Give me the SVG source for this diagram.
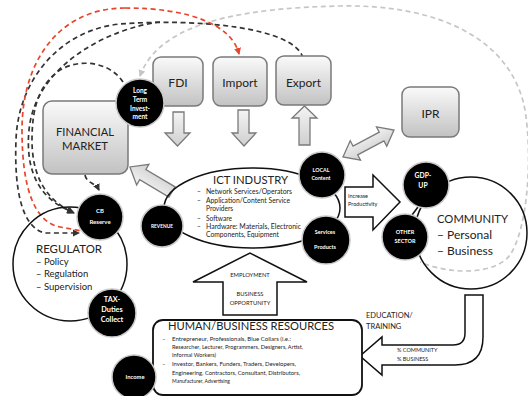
<svg xmlns="http://www.w3.org/2000/svg" width="528" height="396" viewBox="0 0 528 396">
<defs>
<linearGradient id="gb" x1="0" y1="0" x2="0" y2="1">
<stop offset="0" stop-color="#fafafa"/><stop offset="1" stop-color="#c2c2c2"/>
</linearGradient>
<linearGradient id="ga" x1="0" y1="0" x2="0" y2="1">
<stop offset="0" stop-color="#f4f4f4"/><stop offset="1" stop-color="#cfcfcf"/>
</linearGradient>
<marker id="mk" markerWidth="8" markerHeight="8" refX="6" refY="4" orient="auto" markerUnits="userSpaceOnUse"><path d="M0,0.5 L7,4 L0,7.5 Z" fill="#333"/></marker>
<marker id="mr" markerWidth="8" markerHeight="8" refX="6" refY="4" orient="auto" markerUnits="userSpaceOnUse"><path d="M0,0.5 L7,4 L0,7.5 Z" fill="#e8452c"/></marker>
<marker id="mg" markerWidth="8" markerHeight="8" refX="2" refY="4" orient="auto" markerUnits="userSpaceOnUse"><path d="M8,0.5 L1,4 L8,7.5 Z" fill="#c4c4c4"/></marker>
</defs>
<style>
text{font-family:Lato,"Liberation Sans",sans-serif;fill:#222}
.box{fill:url(#gb);stroke:#7a7a7a;stroke-width:1.5}
.blk{fill:#000;stroke:#c8c8c8;stroke-width:1.5}
.ct{fill:#fff;font-weight:bold;text-anchor:middle}
.dk{fill:none;stroke:#333;stroke-width:1.7;stroke-dasharray:5 3.5}
.dr{fill:none;stroke:#e8452c;stroke-width:1.7;stroke-dasharray:5 3.5}
.dg{fill:none;stroke:#c6c6c6;stroke-width:1.7;stroke-dasharray:5 3.5}
.ga{fill:url(#ga);stroke:#7a7a7a;stroke-width:1.3}
.ln{fill:none;stroke:#111;stroke-width:1.5}
.wa{fill:#fff;stroke:#111;stroke-width:1.5}
.bt{font-size:6.6px}
.ht{font-size:6px}
</style>

<g id="connectors">
<path class="dg" d="M140,76 C160,20 250,8 340,6 C440,4 512,40 525,110 C533,160 527,230 510,255 C495,275 450,275 420,262" marker-start="url(#mg)"/>
<path class="dk" d="M303,58 C295,28 200,18 120,24 C60,30 18,80 16,140 C14,190 22,228 45,233 L79,233" marker-end="url(#mk)"/>
<path class="dk" d="M160,22 C110,28 35,65 29,130 C25,172 40,200 73,212" marker-end="url(#mk)"/>
<path class="dr" d="M125,8 C60,8 22,60 22,130 C22,190 35,222 60,227 L82,231"/>
<path class="dr" d="M125,8 C190,8 232,25 239,54" marker-end="url(#mr)"/>
<path class="dk" d="M123,82 C110,62 80,58 60,70 C38,85 32,110 32,140 C32,175 45,200 74,213" marker-end="url(#mk)"/>
<path class="dk" d="M85,175 C87,184 95,182 99,190" marker-end="url(#mk)"/>
<path class="ga" d="M173,112 L184,112 L184,133 L190,133 L177.5,146 L165,133 L173,133 Z"/>
<path class="ga" d="M238,110 L249,110 L249,133 L256,133 L244,146 L232,133 L238,133 Z"/>
<path class="ga" d="M299,145 L310,145 L310,118 L317,118 L304.5,106 L292,118 L299,118 Z"/>
<path class="ga" transform="translate(172,192) rotate(210.8)" d="M0,-6 L34,-6 L34,-12 L49,0 L34,12 L34,6 L0,6 Z"/>
<path class="ga" transform="translate(343,157) rotate(-27.9)" d="M0,0 L14,-11 L14,-5 L43.7,-5 L43.7,-11 L57.7,0 L43.7,11 L43.7,5 L14,5 L14,11 Z"/>
<path class="wa" d="M345,187 L373,187 L373,175 L400,202 L373,230 L373,217 L345,217 Z"/>
<text x="348" y="198" style="font-size:5.5px">Increase</text>
<text x="348" y="206" style="font-size:5.5px">Productivity</text>
<path class="wa" d="M223,315 L277,315 L277,282 L307,282 L250,253 L193,282 L223,282 Z"/>
<text x="250" y="277" text-anchor="middle" style="font-size:5.8px">EMPLOYMENT</text>
<text x="250" y="296" text-anchor="middle" style="font-size:5.8px">BUSINESS</text>
<text x="250" y="305" text-anchor="middle" style="font-size:5.8px">OPPORTUNITY</text>
<path class="wa" d="M465,295 L465,333 Q465,345 453,345 L382,345 L382,337 L360,356 L382,375 L382,365 L455,365 Q483,365 483,337 L483,295 Z"/>
<text x="366" y="318" style="font-size:7.5px">EDUCATION/</text>
<text x="366" y="329" style="font-size:7.5px">TRAINING</text>
<text x="397" y="352" style="font-size:5.5px">% COMMUNITY</text>
<text x="397" y="361" style="font-size:5.5px">% BUSINESS</text>
<line class="ln" x1="418" y1="207" x2="412" y2="215"/>
</g>

<g id="fdi"><rect class="box" x="153" y="57" width="50" height="49" rx="8"/><text x="178" y="87" text-anchor="middle" style="font-size:12px">FDI</text></g>
<g id="import"><rect class="box" x="213" y="57" width="54" height="49" rx="8"/><text x="240" y="87" text-anchor="middle" style="font-size:12px">Import</text></g>
<g id="export"><rect class="box" x="276" y="56" width="55" height="49" rx="8"/><text x="303.5" y="87" text-anchor="middle" style="font-size:12px">Export</text></g>
<g id="ipr"><rect class="box" x="402" y="87" width="57" height="50" rx="8"/><text x="430.5" y="118" text-anchor="middle" style="font-size:12px">IPR</text></g>
<g id="financial-market"><rect class="box" x="43" y="101" width="85" height="73" rx="9"/>
<text x="85" y="136" text-anchor="middle" style="font-size:11.5px" textLength="58" lengthAdjust="spacingAndGlyphs">FINANCIAL</text>
<text x="85" y="150" text-anchor="middle" style="font-size:11.5px" textLength="46" lengthAdjust="spacingAndGlyphs">MARKET</text></g>

<g id="ict-industry"><ellipse class="ln" cx="252" cy="208" rx="88" ry="40" fill="#fff"/>
<text x="250.5" y="184" text-anchor="middle" style="font-size:11px" textLength="75" lengthAdjust="spacingAndGlyphs">ICT INDUSTRY</text>
<text x="197" y="194" class="bt">–</text><text x="206" y="194" class="bt" textLength="86" lengthAdjust="spacingAndGlyphs">Network Services/Operators</text>
<text x="197" y="203" class="bt">–</text><text x="206" y="203" class="bt" textLength="84" lengthAdjust="spacingAndGlyphs">Application/Content Service</text>
<text x="206" y="211" class="bt">Providers</text>
<text x="197" y="221" class="bt">–</text><text x="206" y="221" class="bt">Software</text>
<text x="197" y="229" class="bt">–</text><text x="206" y="229" class="bt" textLength="95" lengthAdjust="spacingAndGlyphs">Hardware: Materials, Electronic</text>
<text x="206" y="237" class="bt" textLength="73" lengthAdjust="spacingAndGlyphs">Components, Equipment</text></g>

<g id="regulator"><circle class="ln" cx="70" cy="264" r="57" fill="none"/>
<text x="36" y="253" style="font-size:11px" textLength="66" lengthAdjust="spacingAndGlyphs">REGULATOR</text>
<text x="36" y="265" style="font-size:9.5px">– Policy</text>
<text x="36" y="277" style="font-size:9.5px">– Regulation</text>
<text x="36" y="290" style="font-size:9.5px">– Supervision</text></g>

<g id="community"><circle class="ln" cx="471" cy="233" r="56" fill="none"/>
<text x="437" y="223" style="font-size:11.5px" textLength="71" lengthAdjust="spacingAndGlyphs">COMMUNITY</text>
<text x="437" y="239" style="font-size:12px">– Personal</text>
<text x="437" y="255" style="font-size:12px">– Business</text></g>

<g id="human-business-resources"><rect x="153" y="320" width="209" height="75" rx="10" fill="#fff" stroke="#111" stroke-width="1.8"/>
<text x="168" y="330" style="font-size:12px" textLength="166" lengthAdjust="spacingAndGlyphs">HUMAN/BUSINESS RESOURCES</text>
<text x="162" y="341" class="ht">–</text><text x="172" y="341" class="ht" textLength="119" lengthAdjust="spacingAndGlyphs">Entrepreneur, Professionals, Blue Collars (i.e.:</text>
<text x="172" y="349" class="ht" textLength="131" lengthAdjust="spacingAndGlyphs">Researcher, Lecturer, Programmers, Designers, Artist,</text>
<text x="172" y="357" class="ht" textLength="44" lengthAdjust="spacingAndGlyphs">Informal Workers)</text>
<text x="162" y="366" class="ht">–</text><text x="172" y="366" class="ht" textLength="124" lengthAdjust="spacingAndGlyphs">Investor, Bankers, Funders, Traders, Developers,</text>
<text x="172" y="375" class="ht" textLength="128" lengthAdjust="spacingAndGlyphs">Engineering, Contractors, Consultant, Distributors,</text>
<text x="172" y="383" class="ht" textLength="58" lengthAdjust="spacingAndGlyphs">Manufacturer, Advertising</text></g>

<g id="long-term-investment"><circle class="blk" cx="140" cy="103" r="24"/>
<text class="ct" x="140" y="93" style="font-size:6.5px">Long</text>
<text class="ct" x="140" y="102" style="font-size:6.5px">Term</text>
<text class="ct" x="140" y="111" style="font-size:6.5px">Invest-</text>
<text class="ct" x="140" y="119" style="font-size:6.5px">ment</text></g>
<g id="cb-reserve"><circle class="blk" cx="100" cy="217" r="23"/>
<text class="ct" x="100" y="213" style="font-size:6px">CB</text>
<text class="ct" x="100" y="224" style="font-size:6px">Reserve</text></g>
<g id="revenue"><circle class="blk" cx="162" cy="226" r="21"/>
<text class="ct" x="162" y="228" style="font-size:4.8px">REVENUE</text></g>
<g id="local-content"><circle class="blk" cx="322" cy="175" r="23"/>
<text class="ct" x="321" y="172" style="font-size:5.3px">LOCAL</text>
<text class="ct" x="321" y="180" style="font-size:5.3px">Content</text></g>
<g id="services-products"><circle class="blk" cx="326" cy="240" r="24"/>
<text class="ct" x="325" y="234" style="font-size:5.5px">Services</text>
<text class="ct" x="325" y="249" style="font-size:5.5px">Products</text></g>
<g id="gdp-up"><circle class="blk" cx="426" cy="185" r="23"/>
<text class="ct" x="423" y="178" style="font-size:6.8px">GDP-</text>
<text class="ct" x="423" y="188" style="font-size:6.8px">UP</text></g>
<g id="other-sector"><circle class="blk" cx="405" cy="237" r="23"/>
<text class="ct" x="405" y="234" style="font-size:5.5px">OTHER</text>
<text class="ct" x="405" y="243" style="font-size:5.5px">SECTOR</text></g>
<g id="tax-duties-collect"><circle class="blk" cx="112" cy="313" r="24"/>
<text class="ct" x="112" y="302" style="font-size:7.3px">TAX-</text>
<text class="ct" x="112" y="312" style="font-size:7.3px">Duties</text>
<text class="ct" x="112" y="322" style="font-size:7.3px">Collect</text></g>
<g id="income"><circle class="blk" cx="134" cy="377" r="22"/>
<text class="ct" x="135" y="379" style="font-size:5.8px">Income</text></g>
</svg>
